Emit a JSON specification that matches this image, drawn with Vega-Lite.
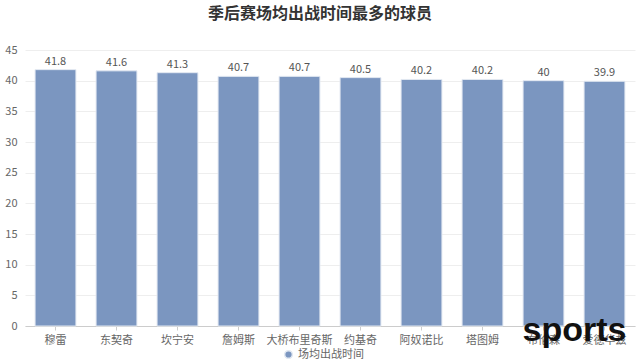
{
  "$schema": "https://vega.github.io/schema/vega-lite/v6.json",
  "autosize": {"type": "none"},
  "width": 610,
  "height": 276,
  "padding": {"left": 25, "top": 50, "right": 5, "bottom": 37},
  "background": "#ffffff",
  "config": {
    "font": "Noto Sans CJK SC",
    "view": {"stroke": null}
  },
  "title": {
    "text": "季后赛场均出战时间最多的球员",
    "fontSize": 16,
    "fontWeight": "bold",
    "color": "#333333",
    "anchor": "middle",
    "dx": -10,
    "offset": 22,
    "font": "Noto Sans CJK SC"
  },
  "data": {
    "values": [
      {"player": "穆雷", "minutes": 41.8},
      {"player": "东契奇", "minutes": 41.6},
      {"player": "坎宁安", "minutes": 41.3},
      {"player": "詹姆斯", "minutes": 40.7},
      {"player": "大桥布里奇斯", "minutes": 40.7},
      {"player": "约基奇", "minutes": 40.5},
      {"player": "阿奴诺比", "minutes": 40.2},
      {"player": "塔图姆", "minutes": 40.2},
      {"player": "布伦森", "minutes": 40},
      {"player": "爱德华兹", "minutes": 39.9}
    ]
  },
  "encoding": {
    "x": {
      "field": "player",
      "type": "nominal",
      "sort": null,
      "scale": {"paddingInner": 0.33, "paddingOuter": 0.165},
      "axis": {
        "title": null,
        "labelAngle": 0,
        "labelColor": "#666666",
        "labelFontSize": 11,
        "labelPadding": 4,
        "domainColor": "#cccccc",
        "tickColor": "#cccccc",
        "tickSize": 4,
        "grid": false
      }
    },
    "y": {
      "field": "minutes",
      "type": "quantitative",
      "scale": {"domain": [0, 45]},
      "axis": {
        "title": null,
        "values": [0, 5, 10, 15, 20, 25, 30, 35, 40, 45],
        "labelColor": "#666666",
        "labelFontSize": 11,
        "labelPadding": 8,
        "domain": false,
        "ticks": false,
        "gridColor": "#eeeeee",
        "gridWidth": 1
      }
    }
  },
  "layer": [
    {
      "mark": {"type": "bar", "stroke": "#e3e9f2", "strokeWidth": 1},
      "encoding": {
        "color": {
          "datum": "场均出战时间",
          "type": "nominal",
          "scale": {"range": ["#7b96c0"]},
          "legend": {
            "title": null,
            "orient": "none",
            "legendX": 258,
            "legendY": 299,
            "direction": "horizontal",
            "symbolType": "circle",
            "symbolSize": 60,
            "labelColor": "#666666",
            "labelFontSize": 11
          }
        }
      }
    },
    {
      "mark": {"type": "text", "baseline": "bottom", "dy": -3, "fontSize": 11, "color": "#555555"},
      "encoding": {
        "text": {"field": "minutes", "type": "quantitative"}
      }
    },
    {
      "transform": [{"filter": "datum.player === '爱德华兹'"}],
      "mark": {"type": "text", "fontSize": 34, "fontWeight": "bold", "color": "#111111", "align": "right", "baseline": "middle", "dx": 22, "dy": 5, "font": "Liberation Sans", "text": "sports"},
      "encoding": {
        "y": {"datum": 0, "type": "quantitative"}
      }
    }
  ]
}
